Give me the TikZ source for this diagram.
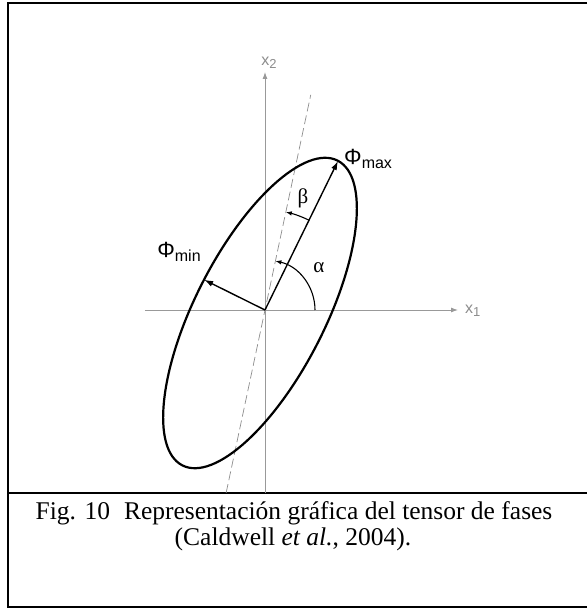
\documentclass[tikz,border=0pt]{standalone}
\usepackage{fontspec}
\setmainfont{Liberation Serif}
\setsansfont{Liberation Sans}
\usetikzlibrary{arrows.meta}

\begin{document}
\begin{tikzpicture}[x=1pt, y=1pt, >=Latex, every node/.style={inner sep=0pt},
    axisline/.style={draw=black!40, line width=0.9pt, -{Latex[length=7pt,width=5pt]}},
    vecline/.style={line width=1.4pt, -{Latex[length=9pt,width=6pt]}},
    anglearc/.style={line width=1.1pt, -{Latex[length=6pt,width=4.5pt]}},
    axislabel/.style={text=black!45, font=\sffamily\fontsize{16}{16}\selectfont},
    philabel/.style={font=\sffamily\fontsize{22}{22}\selectfont},
    greeklabel/.style={font=\fontsize{21}{21}\selectfont},
    caption/.style={font=\fontsize{25.5}{28}\selectfont}]
  \useasboundingbox (-265,-300) rectangle (322,310);
  % frame and caption rule
  \draw[line width=2pt] (322,307) -- (-257,307) -- (-257,-297) -- (322,-297);
  \draw[line width=2pt] (-257,-183) -- (322,-183);
  % axes
  \coordinate (O) at (0,0);
  \coordinate (x1s) at (-120,0);
  \coordinate (x1e) at (193,0);
  \coordinate (x2s) at (0,-183);
  \coordinate (x2e) at (0,238);
  \draw[axisline] (x1s) -- (x1e);
  \draw[axisline] (x2s) -- (x2e);
  \node[axislabel, anchor=west] (lx1) at (200,-1) {x{\fontsize{13}{13}\selectfont\raisebox{-3pt}{1}}};
  \node[axislabel] (lx2) at (4,247) {x{\fontsize{13}{13}\selectfont\raisebox{-3pt}{2}}};
  % principal direction
  \coordinate (dtop) at (78:220);
  \coordinate (dbot) at (258:187);
  \draw[black!45, line width=0.7pt, dash pattern=on 9pt off 4pt] (dbot) -- (dtop);
  % phase tensor ellipse
  \draw[line width=2.2pt, rotate around={63:(-5,-3)}] (-5,-3) ellipse [x radius=171, y radius=65];
  \coordinate (pmax) at (73,149);
  \coordinate (pmin) at (153.6:68);
  \draw[vecline] (O) -- (pmax);
  \draw[vecline] (O) -- (pmin);
  \node[philabel, anchor=base west] (lmax) at (79,145) {Φ{\fontsize{16}{16}\selectfont\raisebox{-4pt}{max}}};
  \node[philabel] (lmin) at (-86,58) {Φ{\fontsize{16}{16}\selectfont\raisebox{-4pt}{min}}};
  % angles
  \draw[anglearc] (0:50) arc[start angle=0, end angle=78, radius=50];
  \draw[anglearc] (64:100) arc[start angle=64, end angle=78, radius=100];
  \node[greeklabel] (lalpha) at (54,42) {α};
  \node[greeklabel] (lbeta) at (38,112) {β};
  % caption
  \node[caption] (cap1) at (29,-203) {Fig. 10\hspace{14pt}Representación gráfica del tensor de fases};
  \node[caption] (cap2) at (28,-229) {(Caldwell \textit{et al.}, 2004).};
\end{tikzpicture}
\end{document}
